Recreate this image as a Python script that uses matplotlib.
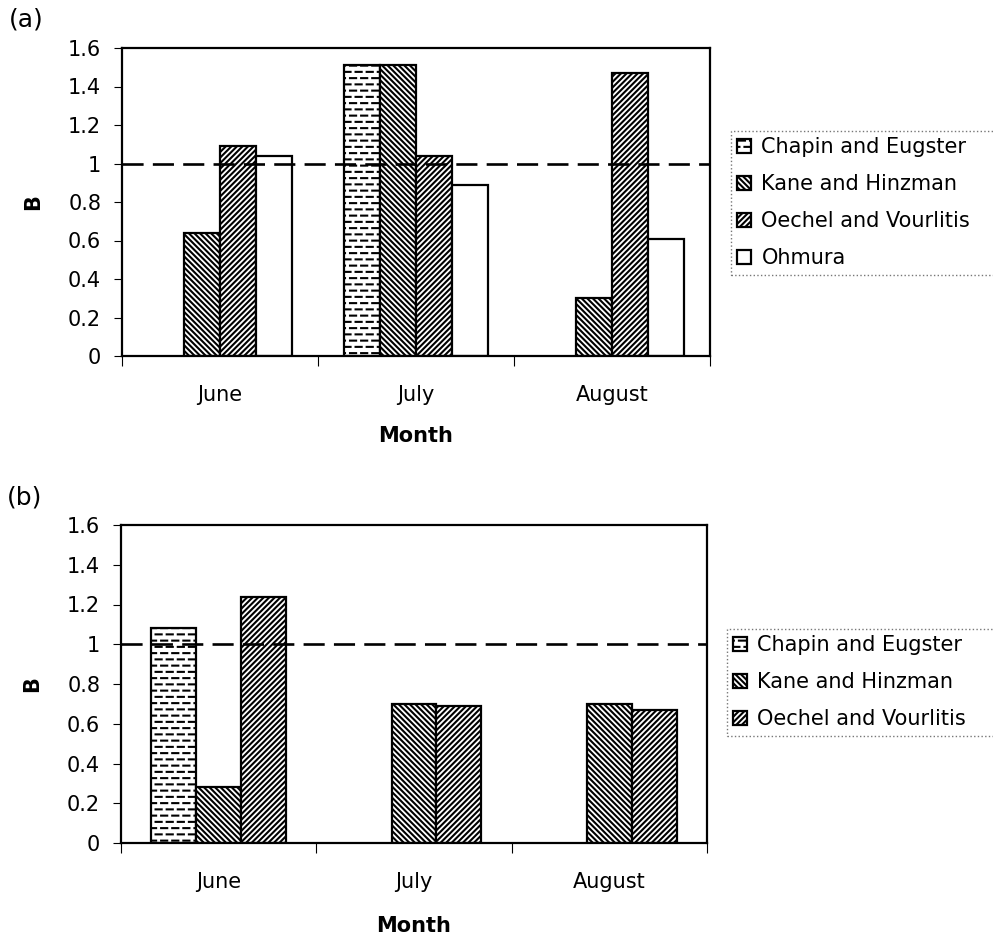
import numpy as np
import matplotlib
matplotlib.use("Agg")
import matplotlib.pyplot as plt
import matplotlib.hatch as mhatch
from matplotlib.path import Path
from matplotlib.ticker import FixedLocator, FuncFormatter

# ---------------------------------------------------------------- data
months = ["June", "July", "August"]
yticks = [0, 0.2, 0.4, 0.6, 0.8, 1.0, 1.2, 1.4, 1.6]

# panel (a)
series_a = ["Chapin and Eugster", "Kane and Hinzman",
            "Oechel and Vourlitis", "Ohmura"]
chapin_a = [np.nan, 1.51, np.nan]
kane_a = [0.64, 1.51, 0.30]
oechel_a = [1.09, 1.04, 1.47]
ohmura_a = [1.04, 0.89, 0.61]

# panel (b)
series_b = ["Chapin and Eugster", "Kane and Hinzman", "Oechel and Vourlitis"]
chapin_b = [1.08, np.nan, np.nan]
kane_b = [0.28, 0.70, 0.70]
oechel_b = [1.24, 0.69, 0.67]


# ------------------------------------------------ staggered dash hatch
class DashRowHatch(mhatch.HatchPatternBase):
    """Rows of short horizontal dashes, every other row shifted half a step."""

    def __init__(self, hatch, density):
        rows = int(hatch.count("-") * density * 4 / 3)
        rows += rows % 2
        per_row = 9
        segs = []
        for i in range(rows):
            y = (i + 0.5) / rows
            shift = 0.5 / per_row if i % 2 else 0.0
            for j in range(per_row):
                x0 = j / per_row + shift
                x1 = x0 + 0.55 / per_row
                if x1 <= 1.0:
                    segs.append((x0, x1, y))
                else:
                    segs.append((x0, 1.0, y))
                    segs.append((0.0, x1 - 1.0, y))
        self.segs = segs
        self.num_vertices = 2 * len(segs)

    def set_vertices_and_codes(self, vertices, codes):
        for k, (x0, x1, y) in enumerate(self.segs):
            vertices[2 * k] = (x0, y)
            vertices[2 * k + 1] = (x1, y)
            codes[2 * k] = Path.MOVETO
            codes[2 * k + 1] = Path.LINETO


mhatch._hatch_types = [DashRowHatch if t is mhatch.HorizontalHatch else t
                       for t in mhatch._hatch_types]

# ---------------------------------------------------------------- style
plt.rcParams["font.family"] = ["DejaVu Sans"]
plt.rcParams["hatch.linewidth"] = 1.5
plt.rcParams["hatch.color"] = "black"

hatches = {"Chapin and Eugster": "--",
           "Kane and Hinzman": "\\" * 6,
           "Oechel and Vourlitis": "/" * 6,
           "Ohmura": ""}

FS = 15
fig = plt.figure(figsize=(9.93, 9.39), dpi=100)

W, H = 993.0, 939.0
ax_a = fig.add_axes([122 / W, 1 - 356 / H, 588 / W, 308 / H])
ax_b = fig.add_axes([121 / W, 1 - 843 / H, 586 / W, 318 / H])


def draw_panel(ax, names, values, width):
    centers = np.arange(len(months)) + 0.5
    n = len(names)
    for k, (name, vals) in enumerate(zip(names, values)):
        offs = (k - (n - 1) / 2) * width
        ax.bar(centers + offs, vals, width, label=name,
               facecolor="white", edgecolor="black", linewidth=1.6,
               hatch=hatches[name], zorder=2)
    ax.axhline(1.0, color="black", lw=1.9, dashes=(8, 3.5), zorder=3)

    ax.set_xlim(0, len(months))
    ax.set_ylim(0, 1.6)
    ax.yaxis.set_major_locator(FixedLocator(yticks))
    ax.yaxis.set_major_formatter(FuncFormatter(lambda v, p: f"{v:g}"))
    ax.tick_params(axis="y", direction="out", length=6, width=0.8,
                   pad=9, labelsize=FS, right=False)

    ax.xaxis.set_major_locator(FixedLocator(np.arange(len(months) + 1)))
    ax.xaxis.set_major_formatter(FuncFormatter(lambda v, p: ""))
    ax.set_xticks(centers, months, minor=True)
    ax.tick_params(axis="x", which="major", direction="out", length=7,
                   width=0.8, top=False)
    ax.tick_params(axis="x", which="minor", length=0, pad=21,
                   labelsize=FS, top=False)

    for sp in ax.spines.values():
        sp.set_linewidth(1.6)
        sp.set_color("black")

    ax.set_xlabel("Month", fontsize=FS, fontweight="bold")
    ax.set_ylabel("B", fontsize=FS, fontweight="bold")
    ax.yaxis.set_label_coords(-0.134, 0.5)


draw_panel(ax_a, series_a, [chapin_a, kane_a, oechel_a, ohmura_a], 0.184)
ax_a.xaxis.set_label_coords(0.5, -0.228)
draw_panel(ax_b, series_b, [chapin_b, kane_b, oechel_b], 0.23)
ax_b.xaxis.set_label_coords(0.5, -0.228)

legend_kw = dict(loc="upper left", mode="expand", fontsize=FS,
                 frameon=True, fancybox=False, borderpad=0.3,
                 handlelength=0.66, handleheight=0.66, handletextpad=0.5,
                 labelspacing=0.82, borderaxespad=0.0)

leg_a = fig.legend(*ax_a.get_legend_handles_labels(),
                   bbox_to_anchor=(731 / W, 1 - 131 / H, 0.3, 0.0),
                   **legend_kw)
leg_b = fig.legend(*ax_b.get_legend_handles_labels(),
                   bbox_to_anchor=(727 / W, 1 - 629 / H, 0.3, 0.0),
                   **legend_kw)
for leg in (leg_a, leg_b):
    fr = leg.get_frame()
    fr.set_edgecolor("#555555")
    fr.set_linewidth(1.0)
    fr.set_linestyle(":")

fig.text(9 / W, 1 - 8 / H, "(a)", fontsize=18, va="top", ha="left")
fig.text(7 / W, 1 - 485 / H, "(b)", fontsize=18, va="top", ha="left")

fig.savefig("out.png", dpi=100)
